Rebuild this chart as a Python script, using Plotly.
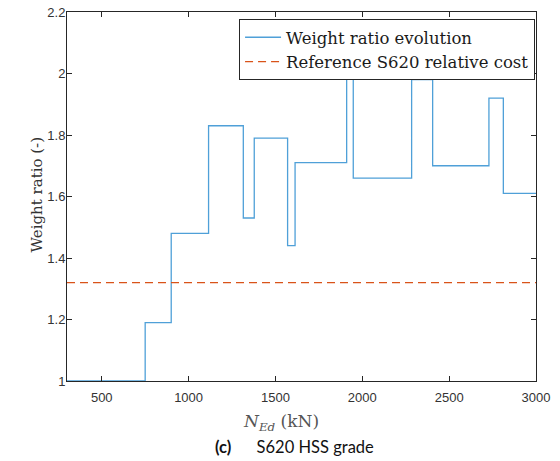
import plotly.graph_objects as go

# Step breakpoints (kN) and weight ratio values (held until next breakpoint)
n_ed = [300, 750, 900, 1115, 1315, 1378, 1570, 1613, 1910, 1948, 2284, 2405, 2729, 2812, 3000]
weight_ratio = [1.0, 1.19, 1.48, 1.83, 1.53, 1.79, 1.44, 1.71, 2.05, 1.66, 1.98, 1.70, 1.92, 1.61, 1.61]
ref_x = [300, 3000]
ref_y = [1.32, 1.32]

x_ticks = [500, 1000, 1500, 2000, 2500, 3000]
y_ticks = [1, 1.2, 1.4, 1.6, 1.8, 2, 2.2]
y_tick_text = ["1", "1.2", "1.4", "1.6", "1.8", "2", "2.2"]

fig = go.Figure()
fig.add_trace(go.Scatter(x=n_ed, y=weight_ratio, mode="lines", line_shape="hv",
                         line=dict(color="#4fa0d8", width=1.3),
                         name="Weight ratio evolution"))
fig.add_trace(go.Scatter(x=ref_x, y=ref_y, mode="lines",
                         line=dict(color="#D95319", width=1.2, dash="8px,5px"),
                         name="Reference S620 relative cost"))

axis_common = dict(showline=True, mirror="ticks", linecolor="#262626", linewidth=1,
                   ticks="inside", ticklen=5, tickcolor="#262626", showgrid=False,
                   zeroline=False, automargin=False, ticklabeloverflow="allow",
                   tickfont=dict(family="Liberation Sans, Arial", size=13, color="#333333"))

fig.update_layout(
    width=560, height=461,
    margin=dict(l=67, r=24, t=12, b=80),
    plot_bgcolor="white", paper_bgcolor="white",
    xaxis=dict(range=[300, 3000], tickvals=x_ticks, ticklabelstandoff=4, **axis_common),
    yaxis=dict(range=[1, 2.2], tickvals=y_ticks, ticktext=y_tick_text, ticklabelstandoff=-2,
               **axis_common),
    legend=dict(x=0.998, y=0.981, xanchor="right", yanchor="top",
                bgcolor="white", bordercolor="#262626", borderwidth=1,
                font=dict(family="DejaVu Serif", size=16.5, color="#1a1a1a"),
                tracegroupgap=0, itemwidth=36),
    showlegend=True,
)

# axis titles (x title sits slightly left of centre in the reference)
fig.add_annotation(xref="paper", yref="paper", x=0.456, y=0, yshift=-41,
                   xanchor="center", yanchor="middle", showarrow=False,
                   text="<i>N</i><sub><i>Ed</i></sub> (kN)",
                   font=dict(family="DejaVu Serif", size=17, color="#555555"))
fig.add_annotation(xref="paper", yref="paper", x=0, y=0.503, xshift=-30,
                   xanchor="center", yanchor="middle", showarrow=False, textangle=-90,
                   text="Weight ratio (-)",
                   font=dict(family="DejaVu Serif", size=15, color="#333333"))

fig.add_annotation(xref="paper", yref="paper", x=0.485, y=0, yshift=-66,
                   xanchor="center", yanchor="middle", showarrow=False,
                   text="<b>(c)</b>      S620 HSS grade",
                   font=dict(family="Lato", size=16.5, color="#111111"))

fig.write_html("out.html", config={"displayModeBar": False},
               post_script="document.body.style.margin='0';")
